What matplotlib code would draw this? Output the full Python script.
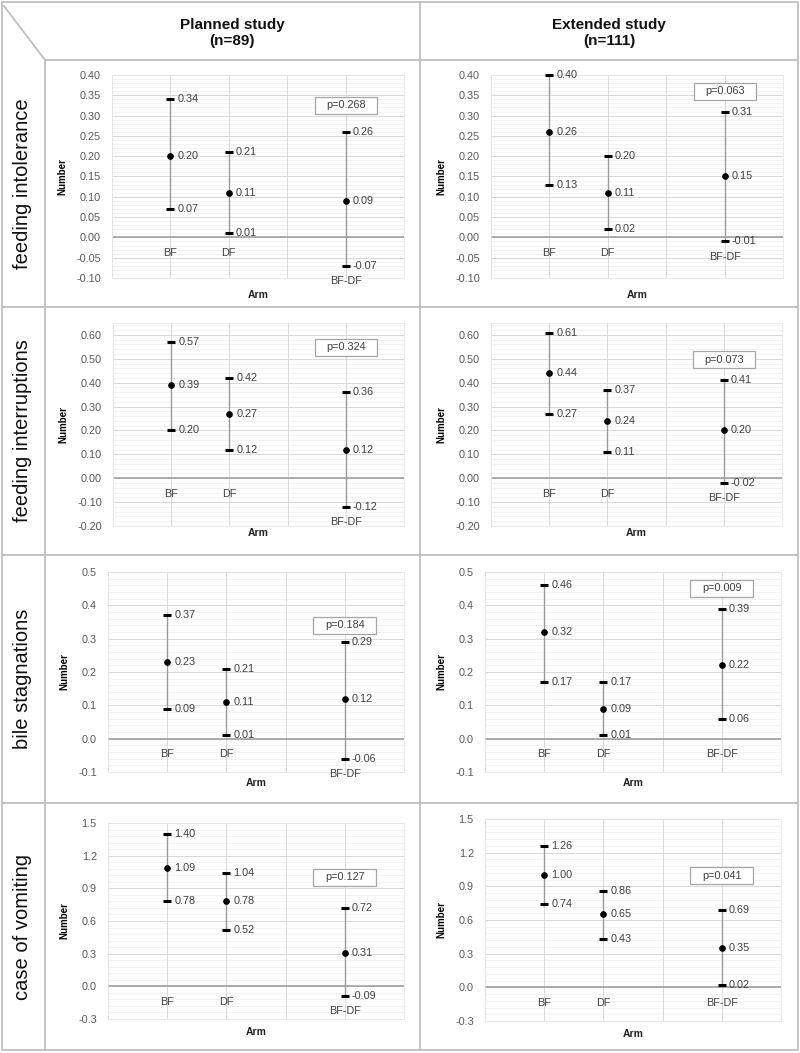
import numpy as np
import matplotlib
matplotlib.use("Agg")
import matplotlib.pyplot as plt
from matplotlib.patches import Rectangle
from matplotlib.transforms import blended_transform_factory

plt.rcParams['font.family'] = ['Liberation Sans', 'DejaVu Sans']

# ---- data ----
outcomes = ['feeding intolerance', 'feeding interruptions', 'bile stagnations', 'case of vomiting']
studies = ['Planned study\n(n=89)', 'Extended study\n(n=111)']
arms = ['BF', 'DF', 'BF-DF']

planned_mean = [[0.20, 0.11, 0.09], [0.39, 0.27, 0.12], [0.23, 0.11, 0.12], [1.09, 0.78, 0.31]]
planned_low = [[0.07, 0.01, -0.07], [0.20, 0.12, -0.12], [0.09, 0.01, -0.06], [0.78, 0.52, -0.09]]
planned_high = [[0.34, 0.21, 0.26], [0.57, 0.42, 0.36], [0.37, 0.21, 0.29], [1.40, 1.04, 0.72]]
planned_p = ['0.268', '0.324', '0.184', '0.127']

extended_mean = [[0.26, 0.11, 0.15], [0.44, 0.24, 0.20], [0.32, 0.09, 0.22], [1.00, 0.65, 0.35]]
extended_low = [[0.13, 0.02, -0.01], [0.27, 0.11, -0.02], [0.17, 0.01, 0.06], [0.74, 0.43, 0.02]]
extended_high = [[0.40, 0.20, 0.31], [0.61, 0.37, 0.41], [0.46, 0.17, 0.39], [1.26, 0.86, 0.69]]
extended_p = ['0.063', '0.073', '0.009', '0.041']

y_min = [-0.10, -0.20, -0.1, -0.3]
y_max = [0.40, 0.65, 0.5, 1.5]
y_step = [0.05, 0.10, 0.1, 0.3]
y_fmt = ['%.2f', '%.2f', '%.1f', '%.1f']

# ---- layout (pixels of an 800x1053 canvas) ----
W, H = 800, 1053
arm_x = [1, 2, 4]
axes_px = [
    [(112, 75, 404, 278), (491, 75, 783, 278)],
    [(113, 323, 404, 526), (491, 323, 782, 526)],
    [(108, 572, 404, 772), (485, 572, 781, 772)],
    [(108, 823, 404, 1019), (485, 819, 781, 1021)],
]
pbox_y = [[0.85, 0.92], [0.88, 0.82], [0.735, 0.92], [0.724, 0.718]]
arm_gap = [17, 7, 11, 13]
row_edges = [60, 307, 555, 803, 1050]

GRID = '#d9d9d9'
MINOR = '#efefef'
TXT = '#404040'
LINE = '#bfbfbf'

fig = plt.figure(figsize=(W / 100, H / 100), dpi=100)

# background for the table frame
bg = fig.add_axes([0, 0, 1, 1])
bg.set_xlim(0, W)
bg.set_ylim(H, 0)
bg.axis('off')
lw = 1.3
bg.plot([2, 798, 798, 2, 2], [2, 2, 1050, 1050, 2], color=LINE, lw=lw)
bg.plot([420, 420], [2, 1050], color=LINE, lw=lw)
bg.plot([45, 45], [60, 1050], color=LINE, lw=lw)
bg.plot([45, 798], [60, 60], color=LINE, lw=lw)
bg.plot([4, 45], [6, 60], color=LINE, lw=lw)
for yy in row_edges[1:-1]:
    bg.plot([2, 798], [yy, yy], color=LINE, lw=lw)

# header and row labels
for j, s in enumerate(studies):
    bg.text([232, 609][j], 33, s, ha='center', va='center', fontsize=11,
            fontweight='bold', linespacing=1.25, color='#111111')
for i, name in enumerate(outcomes):
    bg.text(23, (row_edges[i] + row_edges[i + 1]) / 2, name, rotation=90,
            ha='center', va='center', fontsize=14.5, color='#111111')

for i in range(4):
    for j in range(2):
        mean = [planned_mean, extended_mean][j][i]
        low = [planned_low, extended_low][j][i]
        high = [planned_high, extended_high][j][i]
        p = [planned_p, extended_p][j][i]

        x0, y0, x1, y1 = axes_px[i][j]
        ax = fig.add_axes([x0 / W, 1 - y1 / H, (x1 - x0) / W, (y1 - y0) / H])
        ax.set_xlim(0, 5)
        ax.set_ylim(y_min[i], y_max[i])
        for sp in ax.spines.values():
            sp.set_color('#e6e6e6')
            sp.set_linewidth(0.6)

        ticks = np.arange(y_min[i], y_max[i] + 1e-9, y_step[i])
        minor = np.arange(y_min[i], y_max[i] + 1e-9, y_step[i] / 5)
        ax.set_yticks(ticks)
        ax.set_yticklabels([y_fmt[i] % t if abs(t) > 1e-9 else y_fmt[i] % 0 for t in ticks])
        ax.set_xticks([])
        ax.tick_params(axis='y', length=0, pad=8, labelsize=7.8, labelcolor='#595959')
        for m in minor:
            ax.axhline(m, color=MINOR, lw=0.5, zorder=0)
        for t in ticks:
            ax.axhline(t, color=GRID, lw=0.7, zorder=0)
        for xv in range(6):
            ax.axvline(xv, color=GRID, lw=0.7, zorder=0)
        ax.axhline(0, color='#a0a0a0', lw=1.2, zorder=1)

        ax.set_ylabel('Number', fontsize=7, fontweight='bold', labelpad=6)

        ax.vlines(arm_x, low, high, color='#9a9a9a', lw=1.0, zorder=2, clip_on=False)
        ax.plot(arm_x, low, ls='none', marker='_', ms=6, mew=2.2, color='black',
                zorder=3, clip_on=False)
        ax.plot(arm_x, high, ls='none', marker='_', ms=6, mew=2.2, color='black',
                zorder=3, clip_on=False)
        ax.plot(arm_x, mean, ls='none', marker='o', ms=3.8, color='black', zorder=3)

        for xv, a, lo, m, hi in zip(arm_x, arms, low, mean, high):
            for v in (lo, m, hi):
                ax.annotate('%.2f' % v, (xv, v), xytext=(5, 0), textcoords='offset points',
                            ha='left', va='center', fontsize=7.8, color=TXT,
                            annotation_clip=False)
            ax.annotate(a, (xv, min(0, lo)), xytext=(0, -11), textcoords='offset points',
                        ha='center', va='center', fontsize=7.8, color=TXT,
                        annotation_clip=False)

        # p value box
        tr = blended_transform_factory(ax.transData, ax.transAxes)
        bw, bh = 1.06, 17 / (y1 - y0)
        ax.add_patch(Rectangle((4 - bw / 2, pbox_y[i][j] - bh / 2), bw, bh, transform=tr,
                               facecolor='white', edgecolor='#a6a6a6', lw=0.9, zorder=4))
        ax.text(4, pbox_y[i][j], 'p=' + p, transform=tr, ha='center', va='center',
                fontsize=7.8, color=TXT, zorder=5)

        ax.text(0.5, -arm_gap[i] / (y1 - y0), 'Arm', transform=ax.transAxes,
                ha='center', va='center', fontsize=7.5, fontweight='bold', color='#222222')

fig.savefig('out.png', dpi=100)
